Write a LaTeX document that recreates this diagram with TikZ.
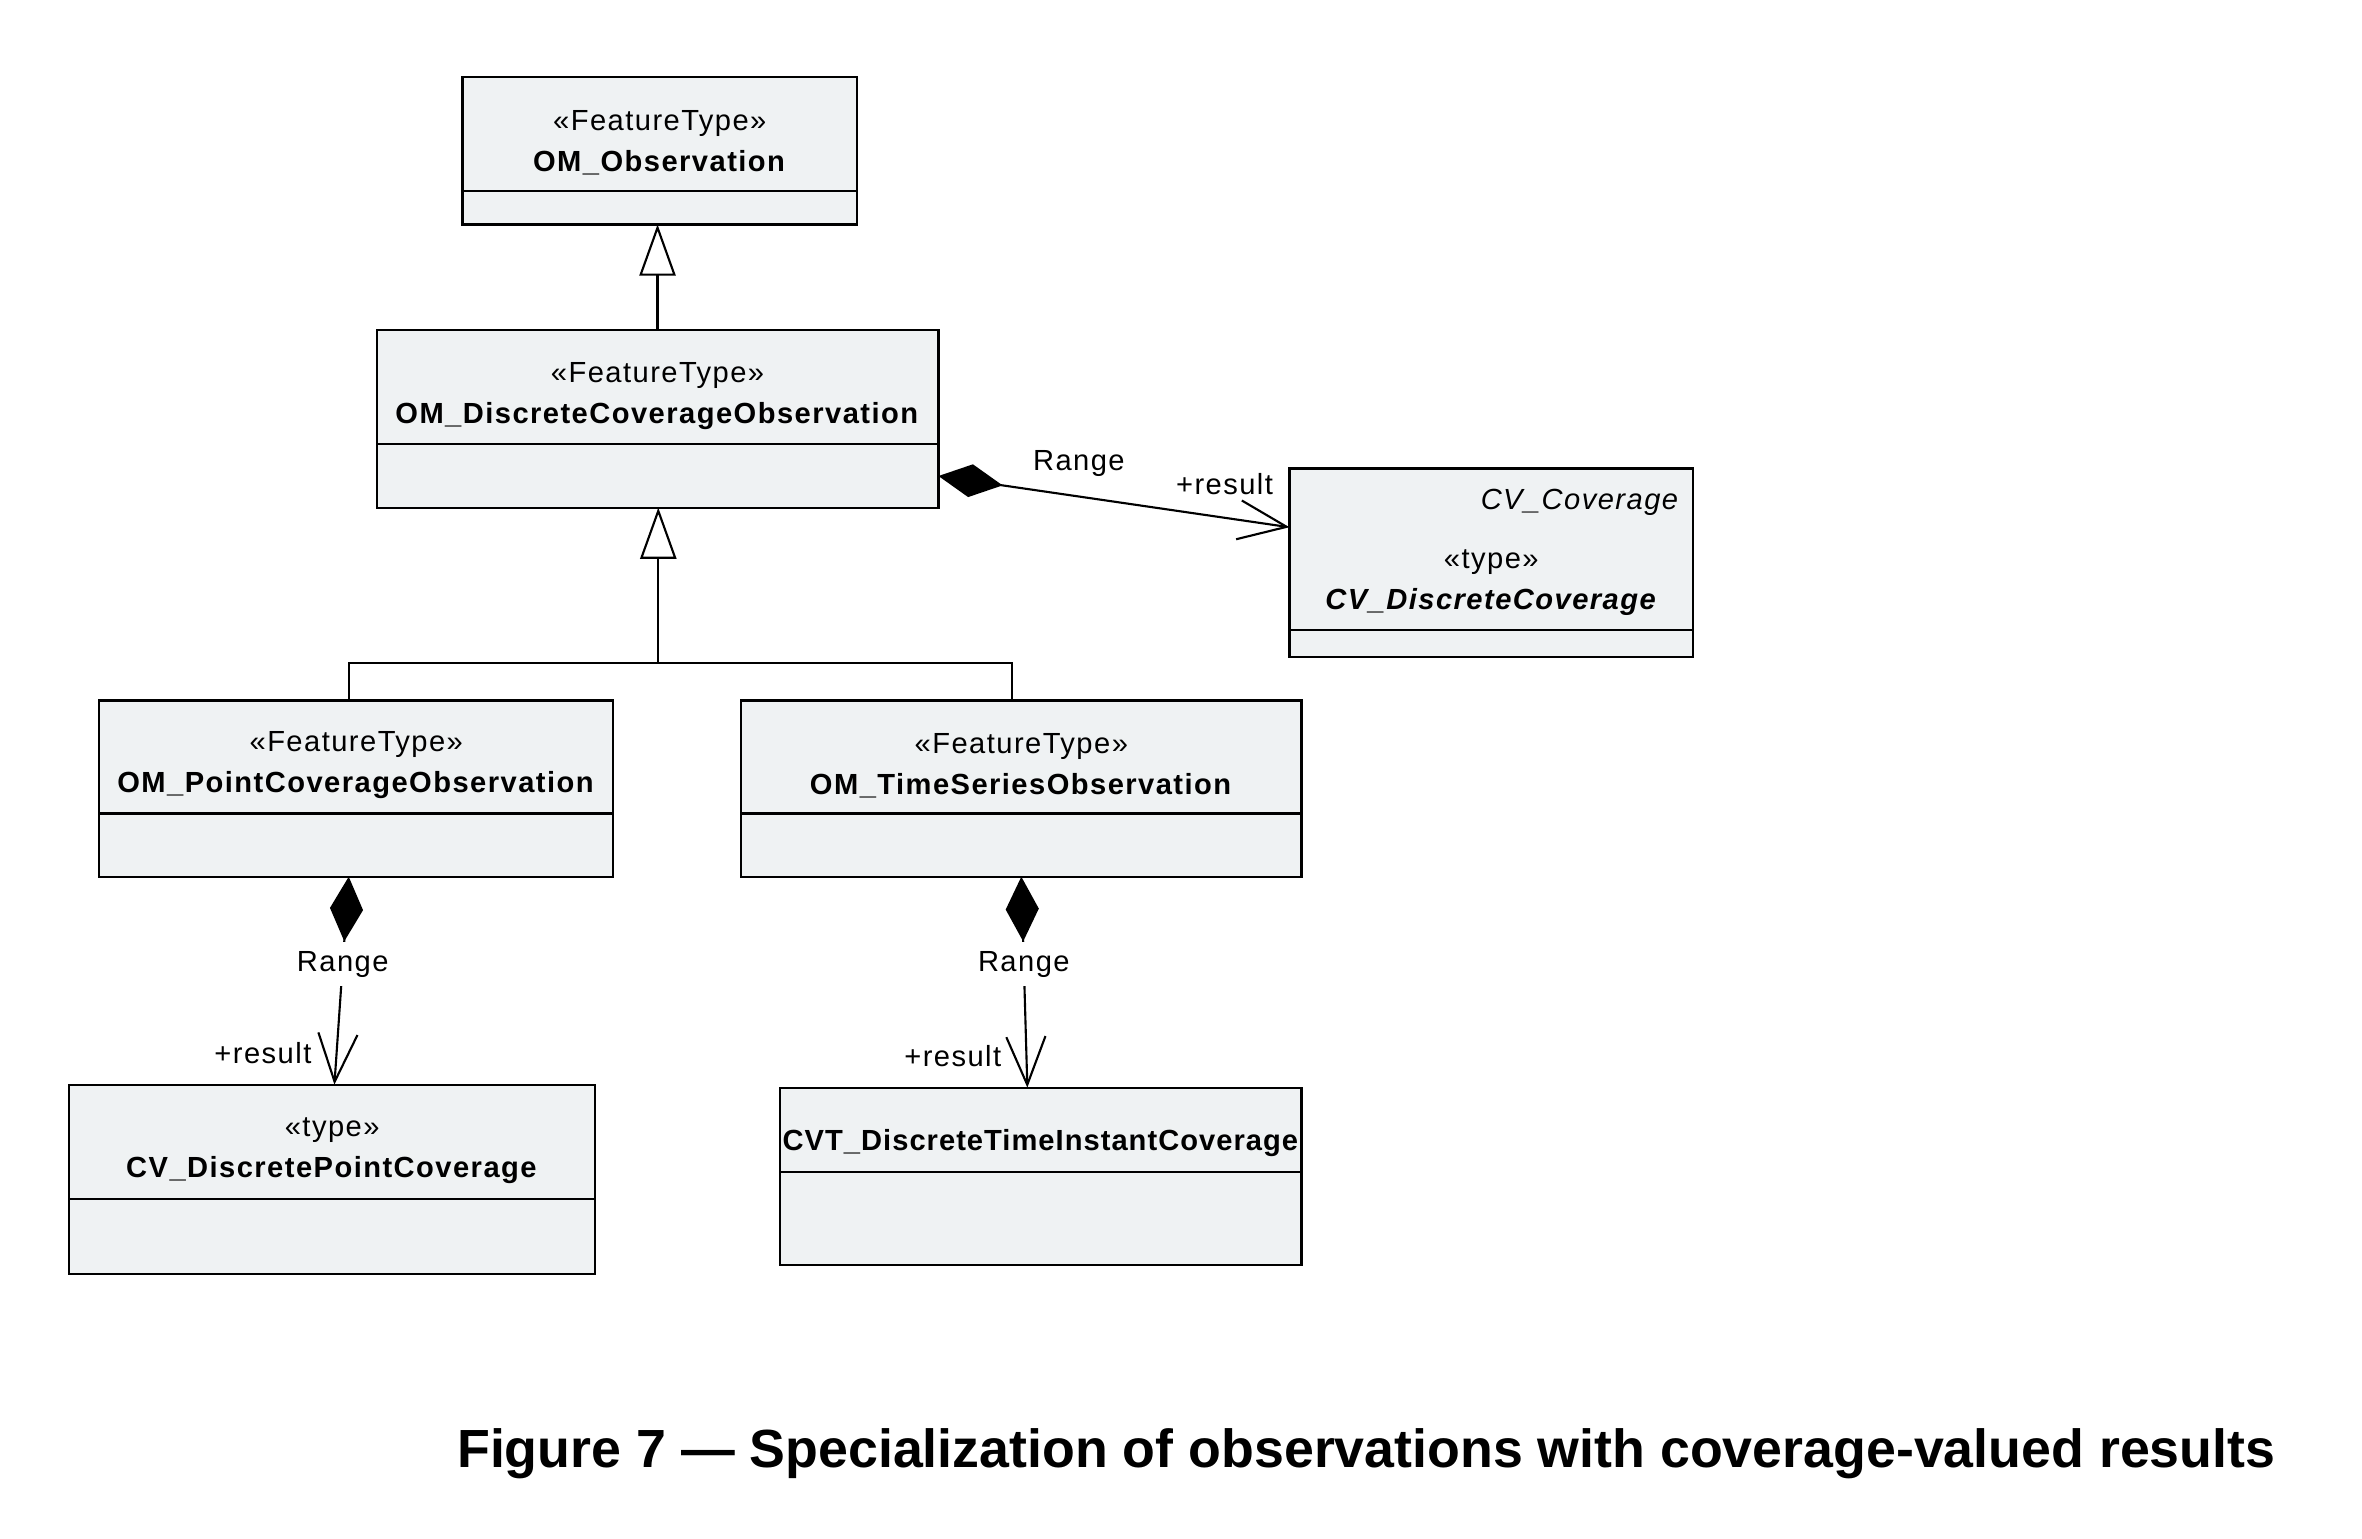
\documentclass[tikz,border=0pt]{standalone}
\usepackage{fontspec}
\usetikzlibrary{arrows.meta, positioning}
\newfontfamily\umlfont[LetterSpace=5]{Liberation Sans}
\newfontfamily\capfont{Liberation Sans}
\definecolor{umlfill}{RGB}{239,242,243}
\newlength{\pxu}
\setlength{\pxu}{0.02cm}
\newcommand{\headstrut}[1][14pt]{\rule{0pt}{#1}}

\tikzset{
  classhead/.style={draw, fill=umlfill, line width=0.8pt, outer sep=0pt, inner sep=0pt,
    align=center, font=\umlfont\fontsize{11}{15.5}\selectfont},
  classbody/.style={draw, fill=umlfill, line width=0.8pt, outer sep=0pt, inner sep=0pt},
  gen/.style={line width=0.8pt, -{Triangle[open, length=0.68cm, width=0.48cm]}},
  comp/.style={line width=0.8pt, {Diamond[length=0.86cm, width=0.44cm]}-{Straight Barb[length=0.64cm, width=0.52cm]}},
  rolelbl/.style={font=\umlfont\fontsize{11}{15}\selectfont, inner sep=2pt},
  covering/.style={rolelbl, fill=white, inner ysep=3.5pt}
}

\begin{document}
\begin{tikzpicture}[x=0.02cm, y=-0.02cm]
\useasboundingbox (0,0) rectangle (1568,1021);

% Class OM_Observation
\node[classhead, anchor=north west, minimum width=262*\pxu, minimum height=76*\pxu] (obs) at (307,51)
  {\headstrut«FeatureType»\\\textbf{OM\_Observation}};
\node[classbody, below=0pt of obs, minimum width=262*\pxu, minimum height=22*\pxu] (obsB) {};

% Class OM_DiscreteCoverageObservation
\node[classhead, anchor=north west, minimum width=373*\pxu, minimum height=76*\pxu] (dco) at (250,219)
  {\headstrut«FeatureType»\\\textbf{OM\_DiscreteCoverageObservation}};
\node[classbody, below=0pt of dco, minimum width=373*\pxu, minimum height=42*\pxu] (dcoB) {};

% Class CV_DiscreteCoverage (from package CV_Coverage)
\node[classhead, anchor=north west, minimum width=268*\pxu, minimum height=107*\pxu] (cvd) at (856,311)
  {\headstrut[10pt]\makebox[250\pxu][r]{\textit{CV\_Coverage}}\\[7pt]«type»\\\textbf{\textit{CV\_DiscreteCoverage}}};
\node[classbody, below=0pt of cvd, minimum width=268*\pxu, minimum height=18*\pxu] (cvdB) {};

% Class OM_PointCoverageObservation
\node[classhead, anchor=north west, minimum width=341*\pxu, minimum height=75*\pxu] (pco) at (66,465)
  {\headstrut«FeatureType»\\\textbf{OM\_PointCoverageObservation}};
\node[classbody, below=0pt of pco, minimum width=341*\pxu, minimum height=42*\pxu] (pcoB) {};

% Class OM_TimeSeriesObservation
\node[classhead, anchor=north west, minimum width=372*\pxu, minimum height=75*\pxu] (tso) at (492,465)
  {\headstrut«FeatureType»\\\textbf{OM\_TimeSeriesObservation}};
\node[classbody, below=0pt of tso, minimum width=372*\pxu, minimum height=42*\pxu] (tsoB) {};

% Class CV_DiscretePointCoverage
\node[classhead, anchor=north west, minimum width=349*\pxu, minimum height=76*\pxu] (cpc) at (46,720)
  {\headstrut«type»\\\textbf{CV\_DiscretePointCoverage}};
\node[classbody, below=0pt of cpc, minimum width=349*\pxu, minimum height=50*\pxu] (cpcB) {};

% Class CVT_DiscreteTimeInstantCoverage
\node[classhead, anchor=north west, minimum width=346*\pxu, minimum height=56*\pxu] (cvt) at (518,722)
  {\headstrut[18pt]\textbf{\addfontfeatures{LetterSpace=3.5}CVT\_DiscreteTimeInstantCoverage}};
\node[classbody, below=0pt of cvt, minimum width=346*\pxu, minimum height=62*\pxu] (cvtB) {};

% Generalizations
\draw[gen] (dco.north) -- (dco.north |- obsB.south);
\coordinate (fork) at (437,440);
\draw[line width=0.8pt] ([xshift=-5*\pxu]pco.north) |- (fork) -| ([xshift=-6*\pxu]tso.north);
\draw[gen] (fork) -- (fork |- dcoB.south);

% Compositions with role labels
\draw[comp] (dcoB.east) -- ([yshift=14.5*\pxu]cvd.west)
  node[rolelbl, pos=0.40, above=0.18cm] (rng1) {Range}
  node[rolelbl, pos=0.815, above=0.22cm] (res1) {+result};
\draw[comp] ([xshift=-5*\pxu]pcoB.south) -- ([xshift=1.5*\pxu]cpc.north)
  node[covering, pos=0.42] (rng2) {Range}
  node[rolelbl, pos=0.85, left=0.25cm] (res2) {+result};
\draw[comp] (tsoB.south) -- ([xshift=-9*\pxu]cvt.north)
  node[covering, pos=0.414] (rng3) {Range}
  node[rolelbl, pos=0.85, left=0.25cm] (res3) {+result};

% Caption
\node[font=\capfont\bfseries\fontsize{20.3}{24}\selectfont] (cap) at (907,965)
  {Figure 7 — Specialization of observations with coverage-valued results};

\end{tikzpicture}
\end{document}
